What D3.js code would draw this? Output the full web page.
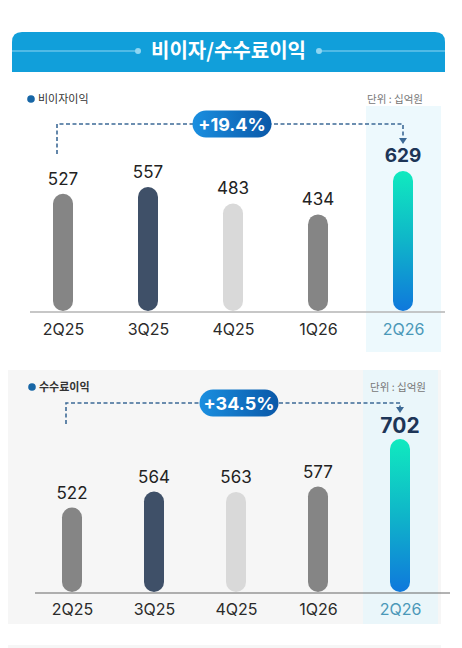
<!DOCTYPE html>
<html><head><meta charset="utf-8">
<script src="https://cdn.jsdelivr.net/npm/d3@7"></script>
<style>
html,body{margin:0;padding:0;background:#fff;}
svg{display:block;}
text{font-family:Inter,"Noto Sans CJK KR","Noto Sans",sans-serif;}
.kr{font-family:"Noto Sans CJK KR","Noto Sans",sans-serif;}
</style></head>
<body>
<svg id="c" width="462" height="648"></svg>
<script>
// ---- data ----
const title = "비이자/수수료이익";
const unitLabel = "단위 : 십억원";
const categories = ["2Q25", "3Q25", "4Q25", "1Q26", "2Q26"];
const nonInterestName = "비이자이익";
const nonInterestValues = [527, 557, 483, 434, 629];
const nonInterestGrowth = "+19.4%";
const feeName = "수수료이익";
const feeValues = [522, 564, 563, 577, 702];
const feeGrowth = "+34.5%";
const barColors = ["#858585", "#3f5068", "#d9d9d9", "#858585", "url(#barGrad)"];

const svg = d3.select("#c");
const defs = svg.append("defs");
const bg = defs.append("linearGradient").attr("id","barGrad").attr("x1",0).attr("y1",0).attr("x2",0).attr("y2",1);
bg.append("stop").attr("offset","0%").attr("stop-color","#10eabf");
bg.append("stop").attr("offset","50%").attr("stop-color","#0fb5c9");
bg.append("stop").attr("offset","100%").attr("stop-color","#0f78dc");
const pg = defs.append("linearGradient").attr("id","pillGrad").attr("x1",0).attr("y1",0).attr("x2",1).attr("y2",0);
pg.append("stop").attr("offset","0%").attr("stop-color","#1a8fe0");
pg.append("stop").attr("offset","100%").attr("stop-color","#0a58a8");

// ---- header ----
const hx0 = 12, hx1 = 445, hy0 = 32, hy1 = 72, r = 10;
svg.append("path")
  .attr("d", `M${hx0},${hy1} L${hx0},${hy0+r} Q${hx0},${hy0} ${hx0+r},${hy0} L${hx1-r},${hy0} Q${hx1},${hy0} ${hx1},${hy0+r} L${hx1},${hy1} Z`)
  .attr("fill", "#119fda");
const tt = svg.append("text").attr("class","kr").attr("x", (hx0+hx1)/2).attr("y", 58)
  .attr("text-anchor","middle").attr("fill","#fff").attr("font-size",20).attr("font-weight",700)
  .text(title);
const tb = tt.node().getBBox();
const ly = 51;
svg.append("line").attr("x1",hx0).attr("x2",tb.x-13).attr("y1",ly).attr("y2",ly).attr("stroke","#8fd6f2").attr("stroke-width",1.2);
svg.append("line").attr("x1",tb.x+tb.width+13).attr("x2",hx1).attr("y1",ly).attr("y2",ly).attr("stroke","#8fd6f2").attr("stroke-width",1.2);
svg.append("circle").attr("cx",tb.x-13).attr("cy",ly).attr("r",3).attr("fill","#8fd6f2");
svg.append("circle").attr("cx",tb.x+tb.width+13).attr("cy",ly).attr("r",3).attr("fill","#8fd6f2");

function panel(o){
  const g = svg.append("g");
  if (o.bgFill) g.append("rect").attr("x",o.px0).attr("y",o.py0).attr("width",o.px1-o.px0).attr("height",o.py1-o.py0).attr("fill",o.bgFill);
  const x = d3.scalePoint().domain(categories).range(o.xr);
  const y = d3.scaleLinear().domain([o.dmin, d3.max(o.values)]).range([o.base, o.base - o.maxH]);
  const last = categories[categories.length-1];
  // highlight column
  g.append("rect").attr("x", x(last)-37).attr("y", o.hlTop).attr("width",75).attr("height", o.py1-o.hlTop)
    .attr("fill","#e6f6fc").attr("opacity",0.7);
  // legend
  g.append("circle").attr("cx",o.legX).attr("cy",o.legY-4).attr("r",3.8).attr("fill","#1766a6");
  g.append("text").attr("class","kr").attr("x",o.legX+7).attr("y",o.legY).attr("font-size",11)
    .attr("font-weight",o.legW).attr("fill","#333").text(o.name);
  g.append("text").attr("class","kr").attr("x",o.unitX).attr("y",o.legY).attr("font-size",10.5)
    .attr("text-anchor","end").attr("fill","#777").text(unitLabel);
  // baseline
  g.append("line").attr("x1",o.bl0).attr("x2",o.bl1).attr("y1",o.base+1).attr("y2",o.base+1)
    .attr("stroke",o.blColor).attr("stroke-width",o.blW);
  // bars
  const bw = 20;
  g.selectAll("rect.bar").data(o.values).join("rect").attr("class","bar")
    .attr("x",(d,i)=>x(categories[i])-bw/2).attr("width",bw)
    .attr("y",d=>y(d)).attr("height",d=>o.base - y(d))
    .attr("rx",bw/2).attr("fill",(d,i)=>barColors[i]);
  // values
  g.selectAll("text.val").data(o.values).join("text").attr("class","val")
    .attr("x",(d,i)=>x(categories[i])).attr("y",(d,i)=>y(d)-(i===o.values.length-1 ? o.lastGap : 9))
    .attr("text-anchor","middle")
    .attr("font-size",(d,i)=> i===o.values.length-1 ? o.lastSize : 17)
    .attr("font-weight",(d,i)=> i===o.values.length-1 ? 700 : 400)
    .attr("fill",(d,i)=> i===o.values.length-1 ? "#1d3557" : "#222")
    .text(d=>d);
  // category axis
  const ax = g.append("g").attr("transform",`translate(0,${o.base})`)
    .call(d3.axisBottom(x).tickSize(0).tickPadding(o.tickPad));
  ax.select(".domain").remove();
  ax.selectAll("text").attr("font-size",16).attr("font-family","Inter,sans-serif")
    .attr("fill",d=> d===last ? "#4a98b8" : "#2a2a2a");
  // bracket
  const bx0 = x(categories[0]) - 6, bx1 = x(last), by = o.brY;
  const arrowTip = y(o.values[o.values.length-1]) - o.lastGap - o.lastSize + 1;
  g.append("path")
    .attr("d",`M${bx0},${o.brBottom} L${bx0},${by} L${bx1},${by} L${bx1},${arrowTip-5}`)
    .attr("fill","none").attr("stroke","#3d6a96").attr("stroke-width",1.6).attr("stroke-dasharray","4,2.5");
  g.append("path").attr("d",`M${bx1-4},${arrowTip-6} L${bx1+4},${arrowTip-6} L${bx1},${arrowTip} Z`).attr("fill","#3d6a96");
  // pill
  const pw = 79, ph = 27;
  g.append("rect").attr("x",o.pillX-pw/2).attr("y",by-ph/2).attr("width",pw).attr("height",ph).attr("rx",ph/2)
    .attr("fill","url(#pillGrad)");
  g.append("text").attr("x",o.pillX).attr("y",by+6.5).attr("text-anchor","middle").attr("fill","#fff")
    .attr("font-size",18).attr("font-weight",700).text(o.growth);
}

panel({
  name: nonInterestName, values: nonInterestValues, growth: nonInterestGrowth,
  px0: 8, px1: 445, py0: 80, py1: 352, bgFill: null, hlTop: 106,
  xr: [63, 403], base: 311, dmin: 0, maxH: 140, lastSize: 19, lastGap: 9,
  legX: 31, legY: 103, legW: 400, unitX: 423,
  bl0: 30, bl1: 445, blColor: "#b5b5b5", blW: 1.5, tickPad: 13,
  brY: 124, brBottom: 154, pillX: 232
});
panel({
  name: feeName, values: feeValues, growth: feeGrowth,
  px0: 8, px1: 441, py0: 370, py1: 624, bgFill: "#f6f6f6", hlTop: 370,
  xr: [72, 400], base: 592, dmin: 300, maxH: 153, lastSize: 21, lastGap: 6,
  legX: 32, legY: 391, legW: 700, unitX: 426,
  bl0: 35, bl1: 450, blColor: "#666", blW: 1, tickPad: 12,
  brY: 403, brBottom: 424, pillX: 239
});
// bottom separator strip
svg.append("rect").attr("x",8).attr("y",645).attr("width",433).attr("height",3).attr("fill","#f6f6f6");
</script>
</body></html>
